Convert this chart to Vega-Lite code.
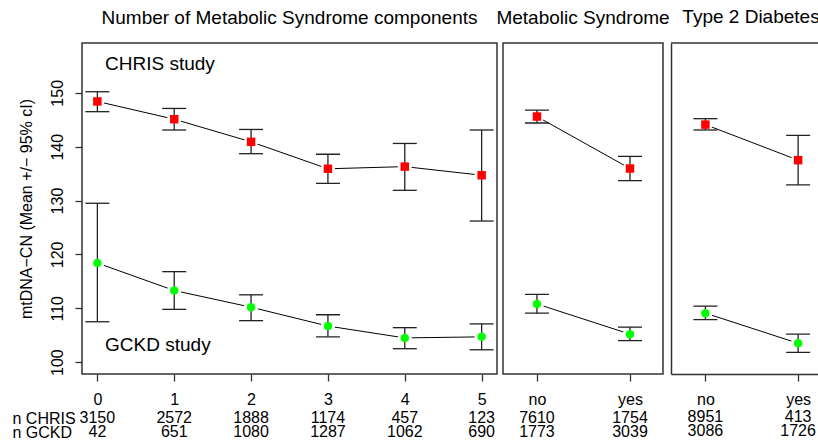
{
  "$schema": "https://vega.github.io/schema/vega-lite/v6.json",
  "padding": {"left": 12, "top": 7, "right": 0, "bottom": 0},
  "config": {
    "font": "Liberation Sans",
    "view": {"stroke": "#333", "strokeWidth": 1.5},
    "axis": {"labelFontSize": 16, "labelColor": "#000", "titleFontSize": 16, "titleFontWeight": "normal", "titleColor": "#000", "tickColor": "#333", "tickWidth": 1.3, "tickSize": 7, "domainColor": "#333", "domainWidth": 1.5, "grid": false, "labelFont": "Liberation Sans", "titleFont": "Liberation Sans"},
    "title": {"fontSize": 19, "fontWeight": "normal", "color": "#000", "font": "Liberation Sans", "offset": 15.5, "anchor": "middle"}
  },
  "datasets": {
    "comp": [
      {"study": "CHRIS", "x": 0, "mean": 148.4, "lo": 146.5, "hi": 150.2},
      {"study": "CHRIS", "x": 1, "mean": 145.1, "lo": 143.1, "hi": 147.1},
      {"study": "CHRIS", "x": 2, "mean": 140.9, "lo": 138.7, "hi": 143.2},
      {"study": "CHRIS", "x": 3, "mean": 135.9, "lo": 133.2, "hi": 138.6},
      {"study": "CHRIS", "x": 4, "mean": 136.3, "lo": 131.9, "hi": 140.6},
      {"study": "CHRIS", "x": 5, "mean": 134.7, "lo": 126.2, "hi": 143.1},
      {"study": "GCKD", "x": 0, "mean": 118.4, "lo": 107.5, "hi": 129.5},
      {"study": "GCKD", "x": 1, "mean": 113.3, "lo": 109.8, "hi": 116.8},
      {"study": "GCKD", "x": 2, "mean": 110.2, "lo": 107.7, "hi": 112.5},
      {"study": "GCKD", "x": 3, "mean": 106.7, "lo": 104.7, "hi": 108.8},
      {"study": "GCKD", "x": 4, "mean": 104.5, "lo": 102.5, "hi": 106.4},
      {"study": "GCKD", "x": 5, "mean": 104.7, "lo": 102.3, "hi": 107.1}
    ],
    "ms": [
      {"study": "CHRIS", "group": "no", "code": 0, "mean": 145.6, "lo": 144.4, "hi": 146.8},
      {"study": "CHRIS", "group": "yes", "code": 1, "mean": 135.95, "lo": 133.7, "hi": 138.2},
      {"study": "GCKD", "group": "no", "code": 0, "mean": 110.8, "lo": 109.1, "hi": 112.6},
      {"study": "GCKD", "group": "yes", "code": 1, "mean": 105.2, "lo": 104.0, "hi": 106.5}
    ],
    "t2d": [
      {"study": "CHRIS", "group": "no", "code": 0, "mean": 144.1, "lo": 143.1, "hi": 145.2},
      {"study": "CHRIS", "group": "yes", "code": 1, "mean": 137.5, "lo": 132.9, "hi": 142.1},
      {"study": "GCKD", "group": "no", "code": 0, "mean": 109.1, "lo": 107.9, "hi": 110.4},
      {"study": "GCKD", "group": "yes", "code": 1, "mean": 103.5, "lo": 101.8, "hi": 105.2}
    ],
    "compN": [
      {"x": 0, "study": "CHRIS", "n": 3150}, {"x": 1, "study": "CHRIS", "n": 2572}, {"x": 2, "study": "CHRIS", "n": 1888},
      {"x": 3, "study": "CHRIS", "n": 1174}, {"x": 4, "study": "CHRIS", "n": 457}, {"x": 5, "study": "CHRIS", "n": 123},
      {"x": 0, "study": "GCKD", "n": 42}, {"x": 1, "study": "GCKD", "n": 651}, {"x": 2, "study": "GCKD", "n": 1080},
      {"x": 3, "study": "GCKD", "n": 1287}, {"x": 4, "study": "GCKD", "n": 1062}, {"x": 5, "study": "GCKD", "n": 690}
    ],
    "msN": [
      {"code": 0, "study": "CHRIS", "n": 7610}, {"code": 1, "study": "CHRIS", "n": 1754},
      {"code": 0, "study": "GCKD", "n": 1773}, {"code": 1, "study": "GCKD", "n": 3039}
    ],
    "t2dN": [
      {"code": 0, "study": "CHRIS", "n": 8951}, {"code": 1, "study": "CHRIS", "n": 413},
      {"code": 0, "study": "GCKD", "n": 3086}, {"code": 1, "study": "GCKD", "n": 1726}
    ]
  },
  "spacing": -3,
  "hconcat": [
    {
      "spacing": 2,
      "vconcat": [
        {
          "title": "Number of Metabolic Syndrome components",
          "width": 415,
          "height": 331,
          "layer": [
            {
              "data": {"name": "comp"},
              "mark": {"type": "line", "color": "#000", "strokeWidth": 1},
              "encoding": {
                "x": {"field": "x", "type": "quantitative", "scale": {"domain": [-0.2, 5.2], "nice": false, "zero": false}, "axis": {"values": [0, 1, 2, 3, 4, 5], "format": "d", "domain": false, "title": null, "labelPadding": 10}},
                "y": {"field": "mean", "type": "quantitative", "title": "mtDNA−CN (Mean +/− 95% cI)", "scale": {"domain": [97.8, 159.25], "nice": false, "zero": false}, "axis": {"values": [100, 110, 120, 130, 140, 150], "labelAngle": -90, "labelAlign": "center", "labelBaseline": "alphabetic", "labelPadding": 13, "domain": false, "titlePadding": 15}},
                "detail": {"field": "study"}
              }
            },
            {
              "data": {"name": "comp"},
              "mark": {"type": "point", "shape": "circle", "filled": true, "color": "#ffffff", "opacity": 1, "size": 200},
              "encoding": {
                "x": {"field": "x", "type": "quantitative"},
                "y": {"field": "mean", "type": "quantitative", "title": "mtDNA−CN (Mean +/− 95% cI)"}
              }
            },
            {
              "data": {"name": "comp"},
              "mark": {"type": "rule", "color": "#222", "strokeWidth": 1.3},
              "encoding": {
                "x": {"field": "x", "type": "quantitative"},
                "y": {"field": "lo", "type": "quantitative", "title": "mtDNA−CN (Mean +/− 95% cI)"},
                "y2": {"field": "hi"}
              }
            },
            {
              "data": {"name": "comp"},
              "mark": {"type": "tick", "orient": "horizontal", "size": 24, "thickness": 1.3, "color": "#222", "opacity": 1},
              "encoding": {
                "x": {"field": "x", "type": "quantitative"},
                "y": {"field": "lo", "type": "quantitative", "title": "mtDNA−CN (Mean +/− 95% cI)"}
              }
            },
            {
              "data": {"name": "comp"},
              "mark": {"type": "tick", "orient": "horizontal", "size": 24, "thickness": 1.3, "color": "#222", "opacity": 1},
              "encoding": {
                "x": {"field": "x", "type": "quantitative"},
                "y": {"field": "hi", "type": "quantitative", "title": "mtDNA−CN (Mean +/− 95% cI)"}
              }
            },
            {
              "data": {"name": "comp"},
              "mark": {"type": "point", "filled": true, "opacity": 1, "size": 72},
              "encoding": {
                "x": {"field": "x", "type": "quantitative"},
                "y": {"field": "mean", "type": "quantitative", "title": "mtDNA−CN (Mean +/− 95% cI)"},
                "shape": {"field": "study", "type": "nominal", "scale": {"domain": ["CHRIS", "GCKD"], "range": ["square", "circle"]}, "legend": null},
                "color": {"field": "study", "type": "nominal", "scale": {"domain": ["CHRIS", "GCKD"], "range": ["#ff0000", "#00ff00"]}, "legend": null}
              }
            },
            {
              "data": {"values": [{"label": "CHRIS study"}]},
              "mark": {"type": "text", "align": "left", "baseline": "middle", "fontSize": 19, "color": "#000"},
              "encoding": {
                "x": {"datum": 0.1, "type": "quantitative"},
                "y": {"datum": 155.35, "type": "quantitative"},
                "text": {"field": "label"}
              }
            },
            {
              "data": {"values": [{"label": "GCKD study"}]},
              "mark": {"type": "text", "align": "left", "baseline": "middle", "fontSize": 19, "color": "#000"},
              "encoding": {
                "x": {"datum": 0.1, "type": "quantitative"},
                "y": {"datum": 103.2, "type": "quantitative"},
                "text": {"field": "label"}
              }
            }
          ]
        },
        {
          "width": 415,
          "height": 28,
          "data": {"name": "compN"},
          "view": {"stroke": null},
          "mark": {"type": "text", "fontSize": 16, "baseline": "middle", "color": "#000"},
          "encoding": {
            "x": {"field": "x", "type": "quantitative", "scale": {"domain": [-0.2, 5.2], "nice": false, "zero": false}, "axis": null},
            "y": {"field": "study", "type": "nominal", "scale": {"type": "point", "domain": ["CHRIS", "GCKD"], "padding": 0.5}, "axis": {"labelExpr": "'n ' + datum.label", "ticks": false, "tickSize": 0, "domain": false, "labelAlign": "left", "labelBaseline": "middle", "labelPadding": 70, "title": null}},
            "text": {"field": "n", "type": "nominal"}
          }
        }
      ]
    },
    {
      "spacing": 2,
      "vconcat": [
        {
          "title": "Metabolic Syndrome",
          "width": 160,
          "height": 331,
          "data": {"name": "ms"},
          "layer": [
            {
              "mark": {"type": "line", "color": "#000", "strokeWidth": 1},
              "encoding": {
                "x": {"field": "code", "type": "quantitative", "scale": {"domain": [-0.365, 1.355], "nice": false, "zero": false}, "axis": {"values": [0, 1], "labelExpr": "datum.value == 0 ? 'no' : 'yes'", "domain": false, "title": null, "labelPadding": 10}},
                "y": {"field": "mean", "type": "quantitative", "scale": {"domain": [97.8, 159.25], "nice": false, "zero": false}, "axis": null},
                "detail": {"field": "study"}
              }
            },
            {
              "mark": {"type": "point", "shape": "circle", "filled": true, "color": "#ffffff", "opacity": 1, "size": 200},
              "encoding": {"x": {"field": "code", "type": "quantitative"}, "y": {"field": "mean", "type": "quantitative"}}
            },
            {
              "mark": {"type": "rule", "color": "#222", "strokeWidth": 1.3},
              "encoding": {"x": {"field": "code", "type": "quantitative"}, "y": {"field": "lo", "type": "quantitative"}, "y2": {"field": "hi"}}
            },
            {
              "mark": {"type": "tick", "orient": "horizontal", "size": 24, "thickness": 1.3, "color": "#222", "opacity": 1},
              "encoding": {"x": {"field": "code", "type": "quantitative"}, "y": {"field": "lo", "type": "quantitative"}}
            },
            {
              "mark": {"type": "tick", "orient": "horizontal", "size": 24, "thickness": 1.3, "color": "#222", "opacity": 1},
              "encoding": {"x": {"field": "code", "type": "quantitative"}, "y": {"field": "hi", "type": "quantitative"}}
            },
            {
              "mark": {"type": "point", "filled": true, "opacity": 1, "size": 72},
              "encoding": {
                "x": {"field": "code", "type": "quantitative"},
                "y": {"field": "mean", "type": "quantitative"},
                "shape": {"field": "study", "type": "nominal", "scale": {"domain": ["CHRIS", "GCKD"], "range": ["square", "circle"]}, "legend": null},
                "color": {"field": "study", "type": "nominal", "scale": {"domain": ["CHRIS", "GCKD"], "range": ["#ff0000", "#00ff00"]}, "legend": null}
              }
            }
          ]
        },
        {
          "width": 160,
          "height": 28,
          "data": {"name": "msN"},
          "view": {"stroke": null},
          "mark": {"type": "text", "fontSize": 16, "baseline": "middle", "color": "#000"},
          "encoding": {
            "x": {"field": "code", "type": "quantitative", "scale": {"domain": [-0.365, 1.355], "nice": false, "zero": false}, "axis": null},
            "y": {"field": "study", "type": "nominal", "scale": {"type": "point", "domain": ["CHRIS", "GCKD"], "padding": 0.5}, "axis": null},
            "text": {"field": "n", "type": "nominal"}
          }
        }
      ]
    },
    {
      "spacing": 2,
      "vconcat": [
        {
          "title": {"text": "Type 2 Diabetes", "dx": 5.5},
          "width": 149,
          "height": 331,
          "view": {"stroke": null},
          "layer": [
            {
              "data": {"name": "t2d"},
              "mark": {"type": "line", "color": "#000", "strokeWidth": 1},
              "encoding": {
                "x": {"field": "code", "type": "quantitative", "scale": {"domain": [-0.371, 1.236], "nice": false, "zero": false}, "axis": {"values": [0, 1], "labelExpr": "datum.value == 0 ? 'no' : 'yes'", "domain": true, "title": null, "labelPadding": 10}},
                "y": {"field": "mean", "type": "quantitative", "scale": {"domain": [97.8, 159.25], "nice": false, "zero": false}, "axis": {"domain": true, "ticks": false, "labels": false, "title": null}},
                "detail": {"field": "study"}
              }
            },
            {
              "data": {"name": "t2d"},
              "mark": {"type": "point", "shape": "circle", "filled": true, "color": "#ffffff", "opacity": 1, "size": 200},
              "encoding": {"x": {"field": "code", "type": "quantitative"}, "y": {"field": "mean", "type": "quantitative"}}
            },
            {
              "data": {"name": "t2d"},
              "mark": {"type": "rule", "color": "#222", "strokeWidth": 1.3},
              "encoding": {"x": {"field": "code", "type": "quantitative"}, "y": {"field": "lo", "type": "quantitative"}, "y2": {"field": "hi"}}
            },
            {
              "data": {"name": "t2d"},
              "mark": {"type": "tick", "orient": "horizontal", "size": 24, "thickness": 1.3, "color": "#222", "opacity": 1},
              "encoding": {"x": {"field": "code", "type": "quantitative"}, "y": {"field": "lo", "type": "quantitative"}}
            },
            {
              "data": {"name": "t2d"},
              "mark": {"type": "tick", "orient": "horizontal", "size": 24, "thickness": 1.3, "color": "#222", "opacity": 1},
              "encoding": {"x": {"field": "code", "type": "quantitative"}, "y": {"field": "hi", "type": "quantitative"}}
            },
            {
              "data": {"name": "t2d"},
              "mark": {"type": "point", "filled": true, "opacity": 1, "size": 72},
              "encoding": {
                "x": {"field": "code", "type": "quantitative"},
                "y": {"field": "mean", "type": "quantitative"},
                "shape": {"field": "study", "type": "nominal", "scale": {"domain": ["CHRIS", "GCKD"], "range": ["square", "circle"]}, "legend": null},
                "color": {"field": "study", "type": "nominal", "scale": {"domain": ["CHRIS", "GCKD"], "range": ["#ff0000", "#00ff00"]}, "legend": null}
              }
            },
            {
              "data": {"values": [{"edge": "top"}]},
              "mark": {"type": "rule", "color": "#333", "strokeWidth": 1.5},
              "encoding": {"y": {"datum": 159.25, "type": "quantitative"}}
            }
          ]
        },
        {
          "width": 149,
          "height": 28,
          "data": {"name": "t2dN"},
          "view": {"stroke": null},
          "mark": {"type": "text", "fontSize": 16, "baseline": "middle", "color": "#000"},
          "encoding": {
            "x": {"field": "code", "type": "quantitative", "scale": {"domain": [-0.371, 1.236], "nice": false, "zero": false}, "axis": null},
            "y": {"field": "study", "type": "nominal", "scale": {"type": "point", "domain": ["CHRIS", "GCKD"], "padding": 0.5}, "axis": null},
            "text": {"field": "n", "type": "nominal"}
          }
        }
      ]
    }
  ]
}
